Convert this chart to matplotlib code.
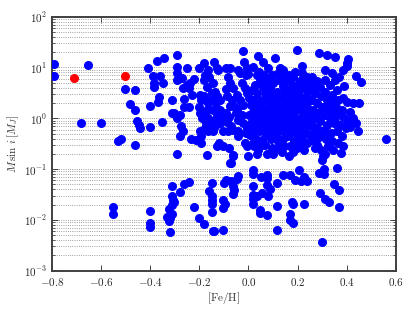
import numpy as np
import matplotlib
matplotlib.use('Agg')
import matplotlib.pyplot as plt
from matplotlib.ticker import LogLocator, FuncFormatter

plt.rcParams['mathtext.fontset'] = 'cm'
plt.rcParams['font.family'] = 'serif'
plt.rcParams['font.serif'] = ['DejaVu Serif']

# sparse metal-poor planets
feh_left = [-0.79, -0.79, -0.652, -0.681, -0.60, -0.50, -0.461, -0.482, -0.461, -0.452,
            -0.444, -0.442, -0.461, -0.529, -0.518, -0.40, -0.40, -0.41, -0.387, -0.373,
            -0.342, -0.383, -0.383, -0.36, -0.362, -0.369, -0.349, -0.35]
m_left = [11.5, 6.7, 11.2, 0.79, 0.79, 3.8, 3.6, 1.9, 1.46, 0.89,
          0.74, 0.63, 0.30, 0.36, 0.39, 0.66, 1.74, 9.9, 6.8, 13.4,
          15.5, 5.0, 4.1, 6.8, 2.6, 2.1, 4.9, 0.86]

# giant planets, [Fe/H] -0.31 .. -0.05
feh_giant_a = [-0.291, -0.291, -0.289, -0.291, -0.271, -0.267, -0.26, -0.262, -0.278, -0.302,
               -0.291, -0.275, -0.264, -0.28, -0.291, -0.251, -0.251, -0.31, -0.31,
               -0.237, -0.24, -0.22, -0.201, -0.196, -0.192, -0.201, -0.196, -0.19, -0.196,
               -0.192, -0.192, -0.213, -0.233, -0.24, -0.23,
               -0.18, -0.176, -0.18, -0.169, -0.163, -0.159, -0.179, -0.163, -0.153, -0.169,
               -0.176, -0.163, -0.172, -0.176, -0.163, -0.156, -0.169, -0.149,
               -0.138, -0.129, -0.122, -0.142, -0.134, -0.129, -0.131, -0.115, -0.142, -0.126,
               -0.136, -0.115, -0.136, -0.142, -0.104, -0.118, -0.126, -0.104, -0.115, -0.108,
               -0.093, -0.075, -0.081, -0.075, -0.091, -0.061, -0.088, -0.068, -0.075, -0.093,
               -0.077, -0.088, -0.07, -0.084, -0.061, -0.077, -0.061, -0.075, -0.054, -0.05,
               -0.061, -0.072]
m_giant_a = [17.6, 10.4, 7.7, 5.7, 6.1, 3.9, 2.4, 1.7, 1.16, 1.25,
             1.0, 0.69, 0.57, 0.44, 0.20, 4.5, 9.6, 2.3, 1.29,
             4.9, 4.0, 5.9, 9.6, 2.9, 2.3, 1.7, 1.25, 1.0, 0.55,
             0.44, 0.32, 0.37, 0.39, 1.7, 2.9,
             12.1, 7.1, 5.7, 4.2, 8.9, 6.6, 2.7, 1.97, 2.3, 1.46,
             1.16, 1.0, 0.80, 0.64, 0.55, 0.74, 0.19, 3.1,
             13.0, 9.6, 8.9, 4.9, 3.35, 2.7, 1.97, 2.3, 1.46, 1.16,
             0.93, 0.80, 0.69, 0.55, 0.55, 0.32, 0.285, 0.28, 1.46, 1.08,
             9.6, 9.6, 6.6, 4.9, 3.7, 3.9, 2.7, 2.3, 1.75, 1.29,
             1.08, 0.86, 0.71, 0.55, 0.59, 0.26, 0.19, 0.13, 1.70, 1.25,
             0.18, 0.13]

# giant planets, [Fe/H] -0.05 .. 0.15
feh_giant_b = [-0.02, -0.016, -0.041, -0.007, -0.034, -0.009, -0.027, -0.014, -0.045, -0.007,
               -0.034, -0.02, -0.045, -0.027, -0.041, -0.02, -0.007, -0.043, -0.009, -0.014,
               -0.007, 0.0, -0.041,
               0.038, 0.037, 0.0, 0.02, 0.045, 0.027, 0.047, 0.014, 0.034, 0.004,
               0.023, 0.045, 0.009, 0.034, 0.018, 0.041, 0.004, 0.027, 0.047, 0.009,
               0.034, 0.02, 0.045, 0.007, 0.031, 0.02, 0.047, 0.034, 0.041, 0.023,
               0.061, 0.081, 0.064, 0.095, 0.075, 0.058, 0.088, 0.068, 0.095, 0.061,
               0.081, 0.099, 0.054, 0.075, 0.095, 0.061, 0.085, 0.068, 0.095, 0.054,
               0.081, 0.061, 0.095, 0.075, 0.054, 0.091, 0.068, 0.095, 0.075, 0.102,
               0.108, 0.129, 0.142, 0.115, 0.149, 0.126, 0.102, 0.14, 0.118, 0.145,
               0.108, 0.131, 0.149, 0.112, 0.136, 0.102, 0.126, 0.149, 0.108, 0.136,
               0.115, 0.142, 0.104, 0.129, 0.149, 0.112, 0.14, 0.122, 0.145, 0.115,
               0.136]
m_giant_b = [21.2, 13.0, 8.9, 9.6, 7.7, 7.1, 4.9, 3.9, 2.9, 3.1,
             2.3, 1.83, 1.46, 1.16, 0.93, 0.80, 0.64, 0.55, 0.51, 0.32,
             0.28, 0.18, 0.44,
             16.9, 7.1, 7.5, 10.4, 8.3, 4.5, 5.3, 3.6, 3.1, 2.5,
             2.3, 2.3, 1.83, 1.70, 1.35, 1.25, 1.16, 1.0, 0.93, 0.80,
             0.71, 0.57, 0.55, 0.47, 0.40, 0.32, 0.28, 0.20, 0.24, 0.28,
             13.0, 9.6, 7.1, 7.1, 5.3, 4.1, 3.9, 3.1, 2.9, 2.3,
             2.3, 1.97, 1.70, 1.57, 1.42, 1.25, 1.11, 0.93, 0.90, 0.74,
             0.71, 0.57, 0.59, 0.47, 0.37, 0.40, 0.30, 0.26, 0.20, 0.20,
             15.2, 9.6, 8.9, 7.5, 7.1, 5.7, 4.9, 4.3, 3.35, 3.1,
             2.7, 2.4, 2.1, 1.83, 1.70, 1.46, 1.29, 1.16, 1.08, 0.955,
             0.82, 0.74, 0.64, 0.59, 0.52, 0.47, 0.40, 0.35, 0.28, 0.26,
             0.22]

# giant planets, [Fe/H] 0.15 .. 0.56
feh_giant_c = [0.167, 0.183, 0.19, 0.159, 0.18, 0.196, 0.163, 0.19, 0.169, 0.196,
               0.156, 0.18, 0.199, 0.163, 0.186, 0.156, 0.176, 0.196, 0.167, 0.19,
               0.159, 0.18, 0.199, 0.163, 0.186, 0.169, 0.196, 0.167, 0.183,
               0.199, 0.217, 0.217, 0.237, 0.21, 0.234, 0.248, 0.217, 0.244, 0.207,
               0.23, 0.248, 0.217, 0.237, 0.207, 0.226, 0.248, 0.21, 0.234, 0.217,
               0.244, 0.207, 0.23, 0.251, 0.217, 0.237, 0.226, 0.21,
               0.289, 0.257, 0.278, 0.262, 0.291, 0.271, 0.294, 0.257, 0.28, 0.298,
               0.262, 0.285, 0.267, 0.291, 0.257, 0.28, 0.298, 0.264, 0.289, 0.257,
               0.278, 0.294, 0.271, 0.302, 0.298,
               0.318, 0.312, 0.339, 0.312, 0.332, 0.312, 0.339, 0.318, 0.346, 0.305,
               0.325, 0.346, 0.312, 0.332, 0.348, 0.318, 0.308, 0.335, 0.316, 0.339,
               0.325, 0.312, 0.346,
               0.352, 0.37, 0.352, 0.386, 0.39, 0.359, 0.386, 0.366, 0.40, 0.356,
               0.379, 0.362, 0.386, 0.352, 0.373, 0.397, 0.359, 0.379, 0.366, 0.383,
               0.375, 0.40,
               0.407, 0.402, 0.40, 0.438, 0.457, 0.427, 0.45, 0.413, 0.427, 0.438,
               0.407, 0.413, 0.447, 0.56]
m_giant_c = [7.1, 6.6, 8.3, 5.3, 4.5, 4.2, 3.6, 3.35, 2.7, 2.5,
             2.1, 1.97, 1.70, 1.57, 1.35, 1.16, 1.05, 0.93, 0.82, 0.71,
             0.61, 0.55, 0.47, 0.44, 0.35, 0.28, 0.26, 0.18, 0.22,
             22.1, 10.7, 7.9, 6.6, 5.3, 4.5, 5.7, 3.9, 3.35, 2.9,
             2.6, 2.3, 1.97, 1.70, 1.50, 1.29, 1.16, 1.0, 0.90, 0.74,
             0.69, 0.59, 0.52, 0.47, 0.40, 0.32, 0.24, 0.31,
             19.0, 6.6, 5.3, 4.1, 4.2, 3.1, 2.7, 2.3, 1.97, 1.70,
             1.46, 1.25, 1.0, 0.90, 0.74, 0.64, 0.55, 0.51, 0.42, 0.37,
             0.30, 0.24, 0.26, 0.18, 0.15,
             17.6, 8.9, 7.7, 5.7, 4.5, 3.35, 2.9, 2.3, 2.1, 1.70,
             1.57, 1.35, 1.16, 1.0, 0.80, 0.74, 0.57, 0.51, 0.40, 0.35,
             0.28, 0.20, 0.24,
             16.4, 6.6, 5.7, 8.9, 4.3, 3.6, 2.5, 2.3, 2.1, 1.70,
             1.46, 1.16, 1.08, 0.86, 0.74, 0.64, 0.55, 0.44, 0.32, 0.28,
             0.21, 0.93,
             14.5, 12.5, 10.9, 6.8, 5.1, 1.97, 2.0, 1.35, 1.0, 0.82,
             0.80, 0.67, 0.55, 0.39]

# low-mass planets (below ~0.1 M_J)
feh_low = [-0.549, -0.549, -0.40, -0.40, -0.40,
           -0.309, -0.262, -0.24, -0.28, -0.309, -0.305, -0.301, -0.312, -0.321, -0.309,
           -0.332, -0.318, -0.321, -0.318, -0.221, -0.199, -0.18, -0.142, -0.149, -0.159,
           -0.149, -0.149, -0.149, -0.15,
           0.018, 0.02, 0.051, 0.077, 0.077, 0.14, 0.169, 0.207, 0.19, 0.213,
           0.237, 0.228, 0.289, 0.308, 0.308, 0.359, 0.35, 0.369, 0.369, 0.291,
           0.312, 0.329, 0.228, 0.118, 0.118, 0.077, 0.077, 0.088, 0.081, 0.054,
           0.047, 0.047, 0.018, 0.02, 0.018, 0.018, 0.037, 0.169, 0.169, 0.18,
           0.176, 0.18, 0.118, 0.298, -0.102, -0.14, -0.102, -0.095, -0.102, -0.099,
           -0.091, -0.064, -0.072, -0.058, -0.047, -0.041, -0.064]
m_low = [0.0177, 0.0133, 0.0148, 0.0088, 0.0074,
         0.047, 0.050, 0.055, 0.035, 0.029, 0.025, 0.023, 0.0197, 0.0162, 0.0130,
         0.0116, 0.0107, 0.0096, 0.0059, 0.018, 0.0107, 0.0083, 0.0061, 0.053, 0.037,
         0.029, 0.025, 0.021, 0.0143,
         0.094, 0.081, 0.071, 0.077, 0.066, 0.077, 0.077, 0.096, 0.061, 0.057,
         0.057, 0.071, 0.083, 0.099, 0.080, 0.104, 0.050, 0.039, 0.018, 0.034,
         0.026, 0.023, 0.0206, 0.053, 0.0188, 0.0125, 0.049, 0.040, 0.030, 0.034,
         0.0157, 0.0135, 0.046, 0.031, 0.026, 0.021, 0.029, 0.013, 0.0100, 0.0086,
         0.023, 0.0206, 0.0063, 0.0036, 0.0062, 0.0060, 0.025, 0.021, 0.0169, 0.054,
         0.061, 0.046, 0.057, 0.039, 0.063, 0.073, 0.033]

# highlighted planets
feh_red = [-0.709, -0.50]
m_red = [6.1, 6.7]

feh_blue = feh_left + feh_giant_a + feh_giant_b + feh_giant_c + feh_low
m_blue = m_left + m_giant_a + m_giant_b + m_giant_c + m_low

fig = plt.figure(figsize=(4.15, 3.12), dpi=100)
ax = fig.add_axes([0.1246, 0.1324, 0.8294, 0.8141])

ax.plot(feh_blue, m_blue, 'o', color='b', mec='b', ms=5.5, zorder=3)
ax.plot(feh_red, m_red, 'o', color='r', mec='r', ms=5.5, zorder=4)

ax.set_yscale('log')
ax.set_xlim(-0.8, 0.6)
ax.set_ylim(1e-3, 1e2)
ax.set_xticks(np.arange(-0.8, 0.61, 0.2))
ax.xaxis.set_major_formatter(FuncFormatter(lambda v, p: '$%.1f$' % (v + 0.0 if abs(v) > 1e-9 else 0.0)))
ax.yaxis.set_major_locator(LogLocator(base=10, numticks=10))
ax.yaxis.set_minor_locator(LogLocator(base=10, subs=np.arange(2, 10), numticks=20))
ax.yaxis.set_major_formatter(FuncFormatter(lambda v, p: '$10^{%d}$' % round(np.log10(v))))

ax.grid(True, which='both', axis='y', color='0.5', linestyle=':', linewidth=0.6)
ax.set_axisbelow(True)

ax.tick_params(which='both', direction='in', top=True, right=True, labelsize=8,
               colors='0.15')
ax.tick_params(which='major', length=4, width=0.6)
ax.tick_params(which='minor', length=2, width=0.5)
for s in ax.spines.values():
    s.set_linewidth(1.4)
    s.set_color('0.25')

ax.set_xlabel(r'$\mathrm{[Fe/H]}$', fontsize=8, color='0.2', labelpad=2)
ax.set_ylabel(r'$M\,\sin\,i\;[M_J]$', fontsize=8, color='0.2', labelpad=2)

fig.savefig('out.png', dpi=100)
